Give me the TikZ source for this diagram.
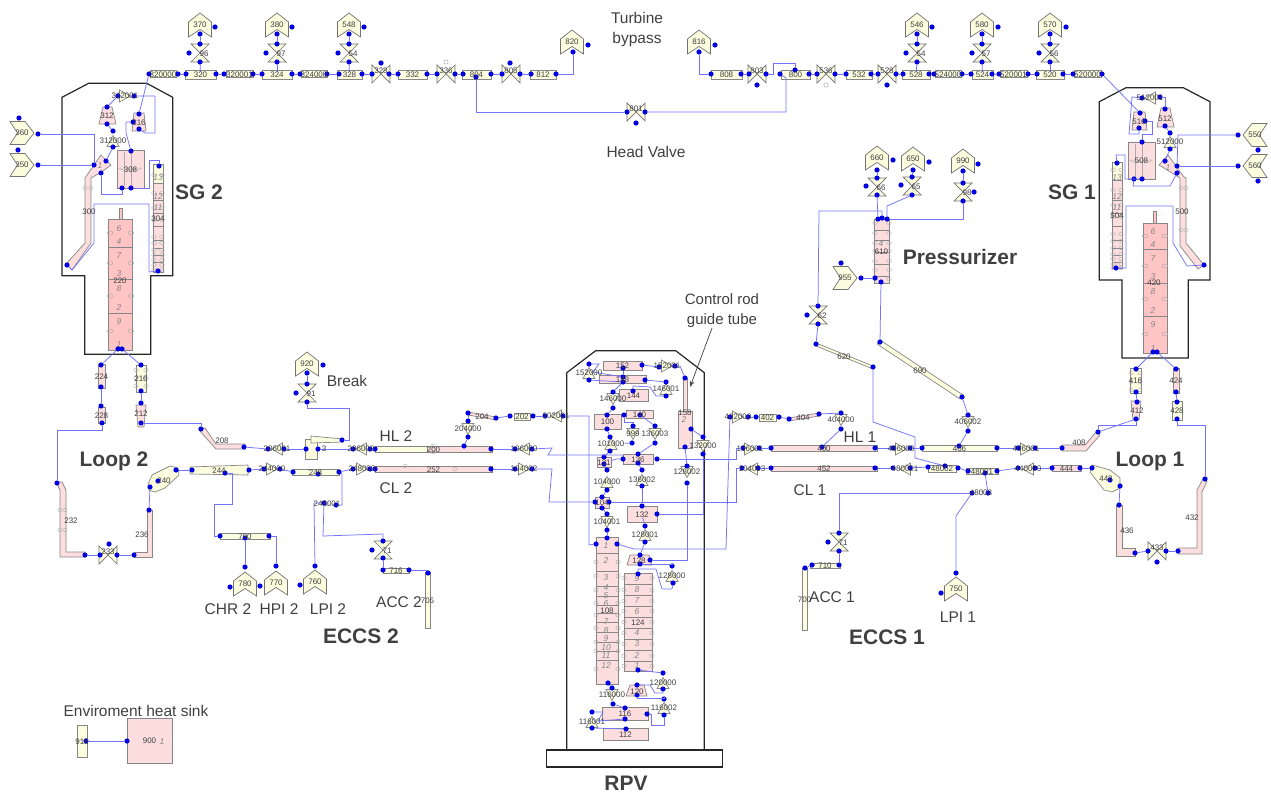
\documentclass[tikz,border=0pt]{standalone}
\usepackage{fontspec}
\setmainfont{Liberation Sans}
\usetikzlibrary{arrows.meta,decorations.pathmorphing}
\pgfdeclarelayer{labels}
\pgfsetlayers{main,labels}
\definecolor{pinkfill}{RGB}{252,222,222}
\definecolor{deepfill}{RGB}{255,196,196}
\definecolor{creamfill}{RGB}{252,252,222}
\definecolor{partgray}{RGB}{135,135,135}
\definecolor{flowblue}{RGB}{115,115,250}
\definecolor{dotblue}{RGB}{0,0,225}
\definecolor{textgray}{RGB}{64,64,64}
\tikzset{
    vessel/.style={draw=black!85, line width=1.2pt},
    pinkpipe/.style={draw=partgray, fill=pinkfill, line width=.7pt},
    deeppipe/.style={draw=partgray, fill=deepfill, line width=.7pt},
    creampipe/.style={draw=partgray, fill=creamfill, line width=.7pt},
    sepline/.style={draw=partgray, line width=.4pt},
    gmark/.style={draw=partgray!70, line width=.4pt},
    flowline/.style={draw=flowblue, line width=.75pt},
    bdot/.style={circle, fill=dotblue, inner sep=0pt, minimum size=5.2pt},
    gcircle/.style={circle, draw=partgray!80, inner sep=0pt, minimum size=4.4pt},
    numlbl/.style={inner sep=0pt, text=black!75, font=\fontsize{8}{8}\selectfont},
    seclbl/.style={inner sep=0pt, text=partgray, font=\fontsize{8.5}{9}\selectfont\itshape},
    plaintxt/.style={inner sep=0pt, text=textgray, font=\fontsize{15.5}{18}\selectfont},
    bigtxt/.style={inner sep=0pt, text=textgray, font=\fontsize{21}{24}\selectfont\bfseries},
    junc/.pic={\draw[creampipe] (-5.5,-6) -- (5.5,0) -- (-5.5,6) -- cycle;},
    valve/.pic={\draw[creampipe, draw=black!55] (-9,-9) -- (9,9) -- (9,-9) -- (-9,9) -- cycle;},
    srcbox/.pic={\draw[creampipe, draw=black!55] (-11.5,-3) -- (0,-12) -- (11.5,-3) -- (11.5,12) -- (0,4.5) -- (-11.5,12) -- cycle;},
}
% number labels stay above the dots
\newcommand{\numnode}[3]{\begin{pgfonlayer}{labels}\node[numlbl] (#1) at (#2) {#3};\end{pgfonlayer}}
\begin{document}
\begin{tikzpicture}[x=1pt, y=-1pt, >=Stealth]
    \useasboundingbox (0,0) rectangle (1271,794);

    % vessels
    \draw[vessel] (62,97.3) -- (88.7,83.3) -- (146.7,83.3) -- (172.7,97.3) -- (172.7,275.7) -- (150.7,275.7) -- (150.7,354.3) -- (84.7,354.3) -- (84.7,275.7) -- (62,275.7) -- cycle;
    \draw[vessel] (1099.3,101.7) -- (1126,87.7) -- (1183.3,87.7) -- (1210,101.7) -- (1210,280) -- (1188.3,280) -- (1188.3,358) -- (1122,358) -- (1122,280) -- (1099.3,280) -- cycle;
    \draw[vessel] (566.7,750) -- (566.7,372.7) -- (595.7,350.7) -- (675.7,350.7) -- (704.3,372.7) -- (704.3,750);
    \draw[vessel] (546.7,750) rectangle (722.7,767);

    % shaped pipes
    \draw[pinkpipe] (101,155) -- (111,165) -- (100,173) -- (91,178) -- (91,243) -- (72,270) -- (66,264) -- (85,243) -- (85,178) -- cycle;
    \draw[pinkpipe] (1168,155) -- (1184,177) -- (1186,178) -- (1186,243) -- (1204,265) -- (1198,269) -- (1180,246) -- (1180,178) -- (1159,165) -- cycle;
    \draw[pinkpipe] (199,430) -- (205,428) -- (216,444) -- (245,444) -- (245,449) -- (216,449) -- cycle;
    \draw[pinkpipe] (1062,445) -- (1085,445) -- (1097,431) -- (1100,435) -- (1086,451) -- (1062,451) -- cycle;
    \draw[pinkpipe] (56,482) -- (62,482) -- (66,490) -- (66,552) -- (85,552) -- (85,557) -- (60,557) -- (60,490) -- cycle;
    \draw[pinkpipe] (147,510) -- (152,510) -- (152,557) -- (134,557) -- (134,552) -- (147,552) -- cycle;
    \draw[pinkpipe] (1116,505) -- (1122,505) -- (1122,548) -- (1135,548) -- (1135,556) -- (1116,556) -- cycle;
    \draw[pinkpipe] (1178,548) -- (1197,548) -- (1197,490) -- (1203,479) -- (1207,481) -- (1202,492) -- (1202,554) -- (1178,554) -- cycle;
    \draw[pinkpipe] (136,405) -- (146,405) -- (144,427) -- (138,427) -- cycle;
    \draw[pinkpipe] (1131,401) -- (1141,401) -- (1139,420) -- (1133,420) -- cycle;
    \draw[pinkpipe] (103,107) -- (112,107) -- (116,124) -- (99,124) -- cycle;
    \draw[pinkpipe] (1161,108) -- (1170,108) -- (1174,127) -- (1157,127) -- cycle;
    \draw[pinkpipe] (134,113) -- (144,113) -- (146,131) -- (132,131) -- cycle;
    \draw[pinkpipe] (1134,112) -- (1145,112) -- (1147,130) -- (1132,130) -- cycle;
    \draw[pinkpipe] (630,555) -- (649,555) -- (652,565) -- (627,565) -- cycle;
    \draw[pinkpipe] (630,685) -- (644,685) -- (647,696) -- (626,696) -- cycle;
    \draw[pinkpipe] (683,378) rectangle (687,411);
    \draw[pinkpipe] (678,411) rectangle (692,448);
    \draw[pinkpipe] (468,412) -- (496,417) -- (496,420) -- (468,415) -- cycle;
    \draw[pinkpipe] (789,418) -- (819,413) -- (819,416) -- (789,421) -- cycle;
    \draw[creampipe] (816,343) -- (873,366) -- (873,369) -- (816,346) -- cycle;
    \draw[creampipe] (880,340) -- (963,395) -- (960,399) -- (877,344) -- cycle;
    \draw[creampipe] (148,484) -- (152,475) -- (170,466) -- (178,468) -- (179,475) -- (165,488) -- (155,492) -- (149,490) -- cycle;
    \draw[creampipe] (1092,465) -- (1110,470) -- (1120,478) -- (1120,488) -- (1112,492) -- (1104,490) -- (1090,472) -- cycle;
    \draw[creampipe] (190,467) -- (248,465) -- (248,475) -- (190,474) -- cycle;
    \draw[creampipe] (305,439) rectangle (317,459);
    \draw[creampipe] (311,436) -- (343,439) -- (343,442) -- (311,443) -- cycle;
    \draw[creampipe] (1172,401) rectangle (1182,420);
    \draw[deeppipe] (119,208) rectangle (122,230);
    \draw[deeppipe] (108,219) rectangle (132,350);
    \draw[deeppipe] (1153,211) rectangle (1156,230);
    \draw[deeppipe] (1143,223) rectangle (1167,353);

    % straight pipes, labelled at their centres
    \foreach \n/\xa/\ya/\xb/\yb in {308/117/150/144/188, 224/98/364/105/388, 228/98/407/105/423, 252/375/466/492/472, 400/771/445.5/877/451, 452/771/466/877/471, 444/1052/465/1081/471, 424/1173/368/1179/393, 508/1128/142/1155/179, 100/594/414/621/429, 152/603/361/642/370, 148/599/375/646/383, 144/619/389/648/401, 140/626/410/653/418, 136/623/454/653/464, 132/627/506/657/522, 104/595/497/609/508, 131/597/457/611/467, 116/602/707/648/720, 112/603/728/648/740, 900/127/718/172/763, 108/596/537/618/684, 124/624/573/652/671, 610/874/219/889/283, 304/153/164/163/272, 504/1112/162/1122/268, 200/375/446/492/452} {
        \draw[pinkpipe] (\xa,\ya) rectangle (\xb,\yb);
        \numnode{n\n}{{(\xa+\xb)/2},{(\ya+\yb)/2+.5}}{\n}
    }
    \foreach \n/\xa/\ya/\xb/\yb in {320000/150/70.5/176/77.5, 320/185/70/216/79, 320001/226/70.5/253/77.5, 324/262/70/292/79, 324000/301/70.5/327/77.5, 328/337/70/362/79, 332/398/70/427/79, 804/462/70/491/79, 812/530/70/556/79, 808/711/70/742/79, 800/781/70/810/79, 532/846/70/872/79, 528/902/70/930/79, 524000/935/70.5/961/77.5, 524/972/70/993/79, 520001/1000/70.5/1027/77.5, 520/1036/70/1064/79, 520000/1074/70.5/1101/77.5, 216/136/365/146/392, 416/1130/368/1141/393, 790/220/533/270/539, 716/383/568/409/573, 710/810/563/840/568, 402/759/414/776/421, 202/514/413/530/420, 406/922/445/997/451, 705/425/572/430/628, 700/802/568/807/630, 918/77/725/87/757, 48002/928/465/956/472, 48001/966/468/998/474, 248/292/469/339/475} {
        \draw[creampipe] (\xa,\ya) rectangle (\xb,\yb);
        \numnode{n\n}{{(\xa+\xb)/2},{(\ya+\yb)/2+.5}}{\n}
    }
    % cream parts of the mixed pipes
    \draw[creampipe] (375,446) rectangle (427,452);
    \draw[creampipe] (153,164) rectangle (163,183);
    \draw[creampipe] (1112,162) rectangle (1122,180);

    % labels of the shaped pipes
    \foreach \n/\x/\y in {300/89/212, 500/1182/212, 208/222/441, 408/1079/443, 232/71/521, 236/142/535, 432/1192/518, 436/1127/531, 212/141/414, 412/1137/411, 428/1177/411, 312/107/116, 512/1165/119, 316/139/123, 516/1139/122, 128/639/561, 120/637/692, 158/685/413, 204/482/417, 404/803/418, 620/844/357, 690/920/371, 240/164/481, 448/1106/479, 244/219/471, 220/120/281, 420/1154/283, 248001/327/504, 48003/981/493} {
        \numnode{n\n}{\x,\y}{\n}
    }
    \numnode{n3}{324,449}{3}

    % section lines
    \foreach \y in {247,279,313} \draw[sepline] (108,\y) -- (132,\y);
    \foreach \y in {249,283,316} \draw[sepline] (1143,\y) -- (1167,\y);
    \foreach \y in {553,571,586,596,605,613,622,632,642,651,660} \draw[sepline] (596,\y) -- (618,\y);
    \foreach \y in {584,595,606,617,628,639,650,661} \draw[sepline] (624,\y) -- (652,\y);
    \foreach \y in {230,240,252,264,276} \draw[sepline] (874,\y) -- (889,\y);
    \foreach \y in {200,213,226,240,248,255,262} {
        \draw[sepline] (153,\y) -- (163,\y);
        \draw[sepline] (1112,\y) -- (1122,\y);
    }

    % small grey marks at the cell faces
    \foreach \x in {110,131} \foreach \y in {233,263,296,331} \draw[gmark] (\x,\y) ellipse [x radius=3pt, y radius=1.8pt];
    \foreach \x in {1145,1165} \foreach \y in {236,266,299,334} \draw[gmark] (\x,\y) ellipse [x radius=3pt, y radius=1.8pt];
    \foreach \x in {596,618} \foreach \y in {562,576,590,603,615,628,642,651,669} \draw[gmark] (\x,\y) ellipse [x radius=2.2pt, y radius=1.8pt];
    \foreach \x in {624,652} \foreach \y in {578,590,601,611,622,633,644,656,666} \draw[gmark] (\x,\y) ellipse [x radius=2.2pt, y radius=1.8pt];
    \foreach \x in {154,162} \foreach \y in {175,193,208,220,237,243,250,255,260,265,270} \draw[gmark] (\x,\y) ellipse [x radius=2.4pt, y radius=1.6pt];
    \foreach \x in {1113,1121} \foreach \y in {170,190,205,217,234,241,248,254,259,264,268} \draw[gmark] (\x,\y) ellipse [x radius=2.4pt, y radius=1.6pt];
    \foreach \x in {875,889} \foreach \y in {223,233,243,251,261,270,279} \draw[gmark] (\x,\y) ellipse [x radius=2.4pt, y radius=1.6pt];
    \foreach \x/\y in {136/370, 146/370, 136/378, 146/378, 136/386, 146/386, 1131/373, 1140/373, 1131/382, 1140/382, 1131/390, 1140/390, 60/510, 65/510, 60/530, 65/530, 85/188, 91/188, 1181/188, 1186/188, 1181/230, 1186/230, 433/446, 433/452, 455/469, 405/466, 327/504, 981/493} \draw[gmark] (\x,\y) ellipse [x radius=2.2pt, y radius=1.6pt];

    % cell numbers
    \foreach \lbl/\y in {6/229, 4/242, 7/256, 3/274, 8/289, 2/308, 9/322, 1/345} \node[seclbl] (sa\lbl) at (119,\y) {\lbl};
    \foreach \lbl/\y in {6/232, 4/245, 7/259, 3/277, 8/292, 2/311, 9/325, 1/349} \node[seclbl] (sb\lbl) at (1153,\y) {\lbl};
    \foreach \lbl/\y in {1/546, 2/561, 3/578, 4/588, 5/596, 6/604, 7/622, 8/631, 9/639, 10/648, 11/656, 12/666} \node[seclbl] (sc\lbl) at (606,\y) {\lbl};
    \foreach \lbl/\y in {9/579, 8/590, 7/601, 6/612, 4/633, 3/644, 2/656, 1/666} \node[seclbl] (sd\lbl) at (637,\y) {\lbl};
    \foreach \lbl/\y in {13/178, 12/197, 11/208} {
        \node[seclbl] (se\lbl) at (158,\y) {\lbl};
        \node[seclbl] (sf\lbl) at (1117,\y) {\lbl};
    }
    \node[seclbl] (sg1) at (162,742) {1};
    \node[seclbl] (sh2) at (684,420) {2};
    \node[seclbl] (si4) at (881,244) {4};
    \node[seclbl] (sj1) at (100,166) {1};
    \node[seclbl] (sk1) at (1168,168) {1};

    % zigzag coils inside the separators
    \draw[gmark, decorate, decoration={zigzag, amplitude=1.4pt, segment length=4pt}] (119,169) -- (142,169);
    \draw[gmark, decorate, decoration={zigzag, amplitude=1.4pt, segment length=4pt}] (1130,161) -- (1153,161);
    \draw[gmark] (124,152) -- (124,186);
    \draw[gmark] (131,152) -- (131,186);
    \draw[gmark] (1135,144) -- (1135,177);
    \draw[gmark] (1142,144) -- (1142,177);

    % branches: direction, position, number
    \foreach \a/\x/\y/\lbl in {0/125/96/312001, 90/113/141/312000, 180/1150/98/512001, 90/1170/142/512000, 180/277/449/206001, 180/361/449/206000, 180/524/449/106000, 0/524/469/104002, 0/272/469/244000, 0/362/469/248000, 270/468/429/204000, 180/556/416/202001, 90/589/373/152000, 0/667/366/152001, 90/666/389/146001, 270/613/399/146000, 90/611/444/101000, 270/633/434/999, 270/655/434/136003, 270/703/446/132000, 270/687/472/128002, 90/607/482/104000, 270/607/522/104001, 90/642/480/136002, 90/645/535/128001, 90/672/576/128000, 90/663/683/120000, 90/664/708/116002, 270/612/695/116000, 90/592/722/116001, 0/738/417/402000, 270/841/420/404000, 0/750/449/106001, 180/752/469/104003, 0/901/449/406000, 180/905/469/480001, 270/968/422/406002, 0/1026/449/406001, 180/1028/469/440000} {
        \pic[rotate=\a] at (\x,\y) {junc};
        \numnode{n\lbl}{\x,\y}{\lbl}
    }

    % valves: direction, position, label
    \foreach \a/\x/\y/\lbl in {90/200/53/96, 90/277/53/97, 90/349/53/54, 0/381/74/328, 0/446/74/336, 0/511/74/805, 0/636/112/801, 0/757/74/803, 0/826/74/536, 0/887/74/528, 90/917/53/54, 90/982/53/57, 90/1050/53/56, 90/877/187/66, 90/912/186/65, 90/963/192/98, 90/818/315/62, 90/307/393/91, 90/383/550/71, 90/839/542/71, 0/108/555/233, 0/1157/551/433} {
        \pic[rotate=\a] at (\x,\y) {valve};
        \numnode{nv\x}{{\x+\a/90*4},{\y+\a/90*1-(1-\a/90)*3}}{\lbl}
    }
    \node[gcircle] (v336c) at (446,62) {};
    \node[gcircle] (v536c) at (826,85) {};

    % boundary volumes: direction, position, number
    \foreach \a/\x/\y/\lbl in {0/200/25/370, 0/277/25/380, 0/349/25/548, 0/572/42/820, 0/699/42/816, 0/917/25/546, 0/982/25/580, 0/1050/25/570, 0/877/158/660, 0/913/159/650, 0/963/161/990, 0/307/364/920, 0/245/584/780, 0/276/583/770, 0/315/582/760, 0/956/589/750, -90/22/133/360, -90/22/165/350, -90/845/278/955, 90/1255/135/550, 90/1255/166/560} {
        \pic[rotate=\a] at (\x,\y) {srcbox};
        \numnode{n\lbl}{\x,\y}{\lbl}
    }

    % junction dots, top row
    \foreach \n/\x/\y in {a320000/149/74, b320000/178/74, a320/186/74, b320/216/74, t96/200/44, b96/200/62, s96/189/53, b370/200/34, r370/215/27, a320001/224/74, b320001/253/74, a324/262/74, b324/292/74, t97/277/44, b97/277/62, s97/266/53, b380/277/34, r380/292/27, a324000/300/74, b324000/327/74, a328/339/74, b328/362/74, t54/349/44, b54/349/62, s54/338/53, b548/349/34, r548/364/27, a328v/372/74, b328v/389/74, t328v/381/63, a332/398/74, b332/427/74, a336/437/74, b336/455/74, a804/463/74, b804/491/74, d804/476/77, a805/502/74, b805/520/74, t805/510/63, a812/531/74, b812/556/74, b820/573/52, r820/588/45, b816/699/52, r816/715/45, a808/711/74, b808/741/74, a803/749/74, b803/766/74, d803/757/85, a800/780/74, b800/809/74, t800/795/70, a801/627/112, b801/645/112, d801/636/123, a536/817/74, b536/835/74, a532/846/74, b532/871/74, a528v/878/74, b528v/896/74, d528v/887/85, a528/903/74, b528/929/74, t54r/917/44, b54r/917/62, s54r/906/53, b546/917/34, r546/932/27, a524000/934/74, b524000/962/74, a524/971/74, b524/992/74, t57/982/44, b57/982/62, s57/972/53, b580/982/34, r580/998/27, a520001/999/74, b520001/1028/74, a520/1037/74, b520/1063/74, t56/1050/44, b56/1050/62, s56/1039/53, b570/1050/34, r570/1066/27, a520000/1073/74, b520000/1102/74} {
        \node[bdot] (\n) at (\x,\y) {};
    }
    % junction dots, SG 2 and loop 2
    \foreach \n/\x/\y in {a312001/118/96, b312001/134/96, t312/107/107, b312/107/124, t312000/113/131, b312000/113/147, t300/106/161, s300/94/165, m300/101/173, e300/67/265, t308/131/151, a308/122/188, b308/131/188, t304/159/166, b304/158/271, t316/139/114, b316/139/129, s316/133/122, t360/19/118, r360/38/134, t350/18/150, r350/38/165, a220/118/349, b220/122/349, t224/101/365, b224/101/387, t216/141/365, b216/141/391, t228/101/406, b228/102/423, t212/141/403, b212/141/423, t232/57/483, b232/85/555, a233/100/555, b233/117/555, t233/109/544, b236/134/555, t236/149/510, b240/150/487, r240/176/470, m240/158/481, a244/192/470, b244/249/470, d244/225/473, a244000/264/469, b244000/280/469, a248/293/472, b248/339/472, d248/318/474, a248000/353/469, b248000/370/469, a252/375/469, b252/491/469, a104002/515/469, b104002/532/469, t208/201/429, b208/244/447, a206001/268/449, b206001/284/449, a3/306/449, b3/318/449, c3/342/440, a206000/353/449, b206000/370/449, a200/375/449, b200/491/449, t200/464/446, a106000/515/449, b106000/532/449, t204000/468/421, b204000/468/437, a204/468/413, b204/496/418, a202/510/416, b202/533/416, a202001/545/416, b202001/563/416, t91/307/384, b91/307/402, s91/296/393, b920/307/373, r920/323/365, a790/220/536, b790/269/536, d790/245/538, t780/245/567, l780/230/587, t770/276/566, l770/260/586, t760/315/566, l760/300/585, a248001/324/503, b248001/336/505, t71/383/541, b71/383/558, s71/372/550, a716/383/570, b716/409/570, t705/428/573} {
        \node[bdot] (\n) at (\x,\y) {};
    }
    % junction dots, RPV
    \foreach \n/\x/\y in {t152000/589/364, b152000/589/380, r152/642/365, b152/623/368, t148/623/377, b148/623/382, r148/645/380, a152001/659/367, b152001/675/366, t158/685/378, r158/691/429, b158/685/447, t132000/703/437, b132000/703/454, t128002/687/466, b128002/687/483, t146001/666/382, b146001/666/396, t144/633/391, t146000/613/392, b146000/613/408, t100/607/415, b100/607/429, t101000/610/437, b101000/610/451, a140/624/415, b140/640/415, t999/633/426, b999/632/443, t136003/655/426, b136003/655/443, t136/638/454, b136/638/463, a136/623/459, r136/657/459, t136002/642/470, b136002/642/486, t132/642/506, r132/657/514, t128001/645/526, b128001/645/542, t128/640/555, r128/650/560, b128/640/564, t131/604/457, b131/604/464, t104000/607/470, b104000/607/490, t104/602/497, b104/602/508, a104/595/502, r104/609/502, t104001/607/514, b104001/607/530, t108/607/538, a108/596/544, r108/617/544, b108/608/683, t128000/672/566, b128000/673/583, t124/638/574, b124/638/670, t120000/663/673, b120000/663/689, t120/637/685, b120/637/695, t116002/664/699, b116002/664/715, r116/647/714, t116000/612/688, b116000/613/704, t116/625/708, b116/625/719, t116001/592/712, b116001/592/728, t112/626/729} {
        \node[bdot] (\n) at (\x,\y) {};
    }
    % junction dots, loop 1, pressurizer and SG 1
    \foreach \n/\x/\y in {a402000/730/417, b402000/748/417, a402/756/417, b402/779/417, a404/789/419, b404/819/414, t404000/841/413, b404000/841/429, t400/822/447, a400/771/448, b400/875/448, a106001/743/448, b106001/759/448, a406000/893/448, b406000/910/448, a406/922/448, b406/997/448, t406/959/446, t406002/968/415, b406002/968/431, b690/962/397, t690/880/342, b610/881/282, a610/878/219, c610/882/218, d610/887/219, s610/875/278, r955/861/278, t955/841/263, t66/877/178, b66/877/195, s66/866/186, b660/877/170, r660/893/160, t65/912/177, b65/912/195, s65/901/185, b650/913/170, r650/929/162, t98/963/183, b98/963/201, s98/974/192, b990/963/171, r990/978/164, t62/818/306, b62/818/324, s62/807/315, a620/816/344, b620/873/367, a406001/1018/448, b406001/1035/448, a408/1062/448, b408/1098/432, t412/1137/402, b412/1136/419, t416/1136/369, b416/1136/392, t424/1176/369, b424/1176/392, t428/1177/402, b428/1177/419, a420/1153/352, b420/1157/352, a104003/742/468, b104003/758/468, a452/771/468, b452/875/468, a480001/893/468, b480001/910/468, a48002/928/467, b48002/958/468, t48002/945/466, a48001/968/471, b48001/997/471, d48001/985/473, a440000/1018/468, b440000/1035/468, a444/1052/468, b444/1080/468, a448/1092/468, m448/1110/480, b448/1120/486, t436/1119/505, b436/1135/553, a433/1148/551, b433/1166/551, d433/1157/562, a432/1178/551, t432/1205/479, a48003/972/493, b48003/988/493, t71r/839/533, b71r/839/551, s71r/828/542, a710/812/565, b710/839/565, t700/805/568, t750/956/573, l750/941/593, a512001/1142/98, b512001/1160/97, t512/1165/109, b512/1165/126, t512000/1170/133, b512000/1170/149, t500/1165/161, s500/1177/166, m500/1177/173, e500/1204/265, t508/1142/142, a508/1134/179, b508/1142/179, t504/1117/163, b504/1116/268, t516/1140/113, b516/1139/128, r516/1145/121, r550/1238/135, d550/1258/150, r560/1238/166, d560/1258/181, r918/86/741, a900/127/741} {
        \node[bdot] (\n) at (\x,\y) {};
    }

    % straight connectors
    \foreach \a/\b in {b320000/a320, b320/a320001, b320001/a324, b324/a324000, b324000/a328, b328/a328v, b328v/a332, b332/a336, b336/a804, b804/a805, b805/a812, b370/t96, b96/n320, b380/t97, b97/n324, b548/t54, b54/n328, b808/a803, b800/a536, b536/a532, b532/a528v, b528v/a528, b528/a524000, b524000/a524, b524/a520001, b520001/a520, b520/a520000, b546/t54r, b54r/n528, b580/t57, b57/n524, b570/t56, b56/n520} {
        \draw[flowline] (\a) -- (\b);
    }
    \foreach \a/\b in {a312001/t312, b312/t312000, b312000/t300, r350/s300, t316/a320000, a220/t224, b220/t216, b224/t228, b216/t212, b232/a233, b233/b236, t236/b240, r240/a244, b244/a244000, b244000/a248, b248/a248000, b248000/a252, b252/a104002, b208/a206001, b206001/a3, b3/a206000, b206000/a200, b200/a106000, t200/b204000, t204000/a204, b204/a202, b202/a202001, t91/b920, d790/t780, b71/a716} {
        \draw[flowline] (\a) -- (\b);
    }
    \foreach \a/\b in {b152/t148, b152000/b148, r152/a152001, r148/t146001, b148/t146000, b146000/t100, b100/t101000, b101000/t131, b131/t104000, b104000/t104, b104/t104001, b104001/t108, n101000/b999, b140/t136003, b136003/t136, b136/t136002, b136002/t132, n132/t128001, b128001/t128, b158/t128002, r158/t132000, b124/t120000, b108/t116000, b116000/t116, b116001/t112} {
        \draw[flowline] (\a) -- (\b);
    }
    \foreach \a/\b in {b402000/a402, b402/a404, b404/t404000, b404000/t400, b106001/a400, b400/a406000, b406000/a406, b406/a406001, b406001/a408, b406002/t406, b690/t406002, t690/b610, s610/r955, b66/a610, b660/t66, b650/t65, b990/t98, b62/a620, b408/b412, t412/b416, t428/b424, a420/t416, b420/t424, b104003/a452, b452/a480001, b480001/a48002, b48002/a48001, b48001/a440000, b440000/a444, b444/a448, b448/t436, b436/a433, b433/a432, d48001/b48003, b71r/b710, a710/t700, b512/t512000, b512000/t500, r560/s500, r918/a900} {
        \draw[flowline] (\a) -- (\b);
    }

    % connectors with bends, left half
    \draw[flowline] (r360) -- (94,134) -- (s300);
    \draw[flowline] (m300) -- (101,194) -- (122,194) -- (a308);
    \draw[flowline] (e300) -- (72,270) -- (94,243) -- (94,204) -- (149,204) -- (149,272) -- (b304);
    \draw[flowline] (b308) -- (149,188) -- (149,160) -- (159,160) -- (t304);
    \draw[flowline] (t308) -- (126,133) -- (126,122) -- (s316);
    \draw[flowline] (b312001) -- (155,96) -- (155,133) -- (145,133) -- (b316);
    \draw[flowline] (b228) -- (102,430) -- (57,430) -- (t232);
    \draw[flowline] (b212) -- (201,423) -- (t208);
    \draw[flowline] (c3) -- (349,440) -- (349,408) -- (307,408) -- (b91);
    \draw[flowline] (d244) -- (232,473) -- (232,504) -- (214,504) -- (214,536) -- (a790);
    \draw[flowline] (b790) -- (276,536) -- (t770);
    \draw[flowline] (b248) -- (342,474) -- (342,505) -- (b248001);
    \draw[flowline] (a248001) -- (314,503) -- (t760);
    \draw[flowline] (a248001) -- (323,536) -- (383,534) -- (t71);
    \draw[flowline] (b716) -- (428,570) -- (t705);
    \draw[flowline] (d804) -- (476,112) -- (a801);
    \draw[flowline] (b801) -- (786,112) -- (786,78) -- (a800);
    \draw[flowline] (b812) -- (573,74) -- (b820);
    \draw[flowline] (b816) -- (699,74) -- (a808);
    \draw[flowline] (b803) -- (773,74) -- (773,63) -- (795,63) -- (t800);

    % connectors with bends, vessel
    \draw[flowline] (b104002) -- (552,469) -- (549,502) -- (a104);
    \draw[flowline] (b106000) -- (552,448) -- (548,455) -- (622,455) -- (a136);
    \draw[flowline] (b202001) -- (589,416) -- (589,545) -- (a108);
    \draw[flowline] (r108) -- (634,549) -- (726,549) -- (a402000);
    \draw[flowline] (r136) -- (736,459) -- (736,448) -- (a106001);
    \draw[flowline] (r104) -- (736,502) -- (736,468) -- (a104003);
    \draw[flowline] (t152000) -- (599,364) -- (593,372) -- (t148);
    \draw[flowline] (b152001) -- (680,366) -- (t158);
    \draw[flowline] (b146001) -- (656,396) -- (650,387) -- (633,386) -- (t144);
    \draw[flowline] (a140) -- (624,422) -- (633,422) -- (t999);
    \draw[flowline] (b132000) -- (703,514) -- (r132);
    \draw[flowline] (b128002) -- (687,560) -- (r128);
    \draw[flowline] (b128) -- (672,564) -- (t128000);
    \draw[flowline] (t124) -- (638,569) -- (656,569) -- (662,589) -- (672,589) -- (b128000);
    \draw[flowline] (b120000) -- (663,693) -- (655,693) -- (650,685) -- (t120);
    \draw[flowline] (b120) -- (637,698) -- (664,698) -- (t116002);
    \draw[flowline] (b116002) -- (664,725) -- (651,725) -- (651,714) -- (r116);
    \draw[flowline] (t116001) -- (603,712) -- (598,721) -- (b116);
    \draw[flowline] (n131) -- (617,459) -- (a136);

    % connectors with bends, right half
    \draw[flowline] (b65) -- (887,206) -- (d610);
    \draw[flowline] (b98) -- (963,219) -- (d610);
    \draw[flowline] (c610) -- (882,211) -- (819,211) -- (t62);
    \draw[flowline] (b620) -- (873,422) -- (915,437) -- (915,458) -- (t48002);
    \draw[flowline] (b412) -- (1136,425) -- (1098,425) -- (b408);
    \draw[flowline] (t432) -- (1205,425) -- (1177,425) -- (b428);
    \draw[flowline] (a48003) -- (839,493) -- (t71r);
    \draw[flowline] (t750) -- (956,516) -- (a48003);
    \draw[flowline] (b520000) -- (t516);
    \draw[flowline] (b512001) -- (1165,97) -- (t512);
    \draw[flowline] (r550) -- (1178,135) -- (s500);
    \draw[flowline] (m500) -- (1170,186) -- (1133,186) -- (a508);
    \draw[flowline] (b508) -- (1125,179) -- (1125,155) -- (1116,155) -- (t504);
    \draw[flowline] (b504) -- (1126,268) -- (1126,206) -- (1173,206) -- (1173,243) -- (1187,266) -- (e500);
    \draw[flowline] (a512001) -- (1132,97) -- (1129,134) -- (1139,134) -- (b516);
    \draw[flowline] (r516) -- (1152,121) -- (1152,134) -- (1142,134) -- (t508);

    % guide tube pointer
    \coordinate (ptrtip) at (690,387);
    \node[plaintxt, font=\fontsize{15}{20}\selectfont, align=center] (tRod) at (722,311) {Control rod\\guide tube};
    \draw[->, black!75, line width=.7pt] (tRod.south) ++(-10,0) -- (ptrtip);

    % text
    \node[plaintxt] (tTurbine) at (637,18) {Turbine};
    \node[plaintxt] (tBypass) at (637,39) {bypass};
    \node[plaintxt] (tHead) at (646,152) {Head Valve};
    \node[plaintxt] (tBreak) at (347,381) {Break};
    \node[plaintxt] (tHL2) at (396,436) {HL 2};
    \node[plaintxt] (tCL2) at (396,488) {CL 2};
    \node[plaintxt] (tHL1) at (860,437) {HL 1};
    \node[plaintxt] (tCL1) at (810,490) {CL 1};
    \node[plaintxt] (tCHR) at (228,609) {CHR 2};
    \node[plaintxt] (tHPI) at (279,609) {HPI 2};
    \node[plaintxt] (tLPI) at (328,609) {LPI 2};
    \node[plaintxt] (tACC2) at (399,602) {ACC 2};
    \node[plaintxt] (tACC1) at (832,597) {ACC 1};
    \node[plaintxt] (tLPI1) at (958,617) {LPI 1};
    \node[plaintxt] (tSink) at (136,711) {Enviroment heat sink};
    \node[bigtxt] (tSG2) at (199,192) {SG 2};
    \node[bigtxt] (tSG1) at (1072,192) {SG 1};
    \node[bigtxt] (tPrz) at (960,257) {Pressurizer};
    \node[bigtxt] (tLoop2) at (114,461) {Loop 2};
    \node[bigtxt] (tLoop1) at (1150,461) {Loop 1};
    \node[bigtxt] (tECCS2) at (361,636) {ECCS 2};
    \node[bigtxt] (tECCS1) at (887,637) {ECCS 1};
    \node[bigtxt] (tRPV) at (626,783) {RPV};
\end{tikzpicture}
\end{document}
